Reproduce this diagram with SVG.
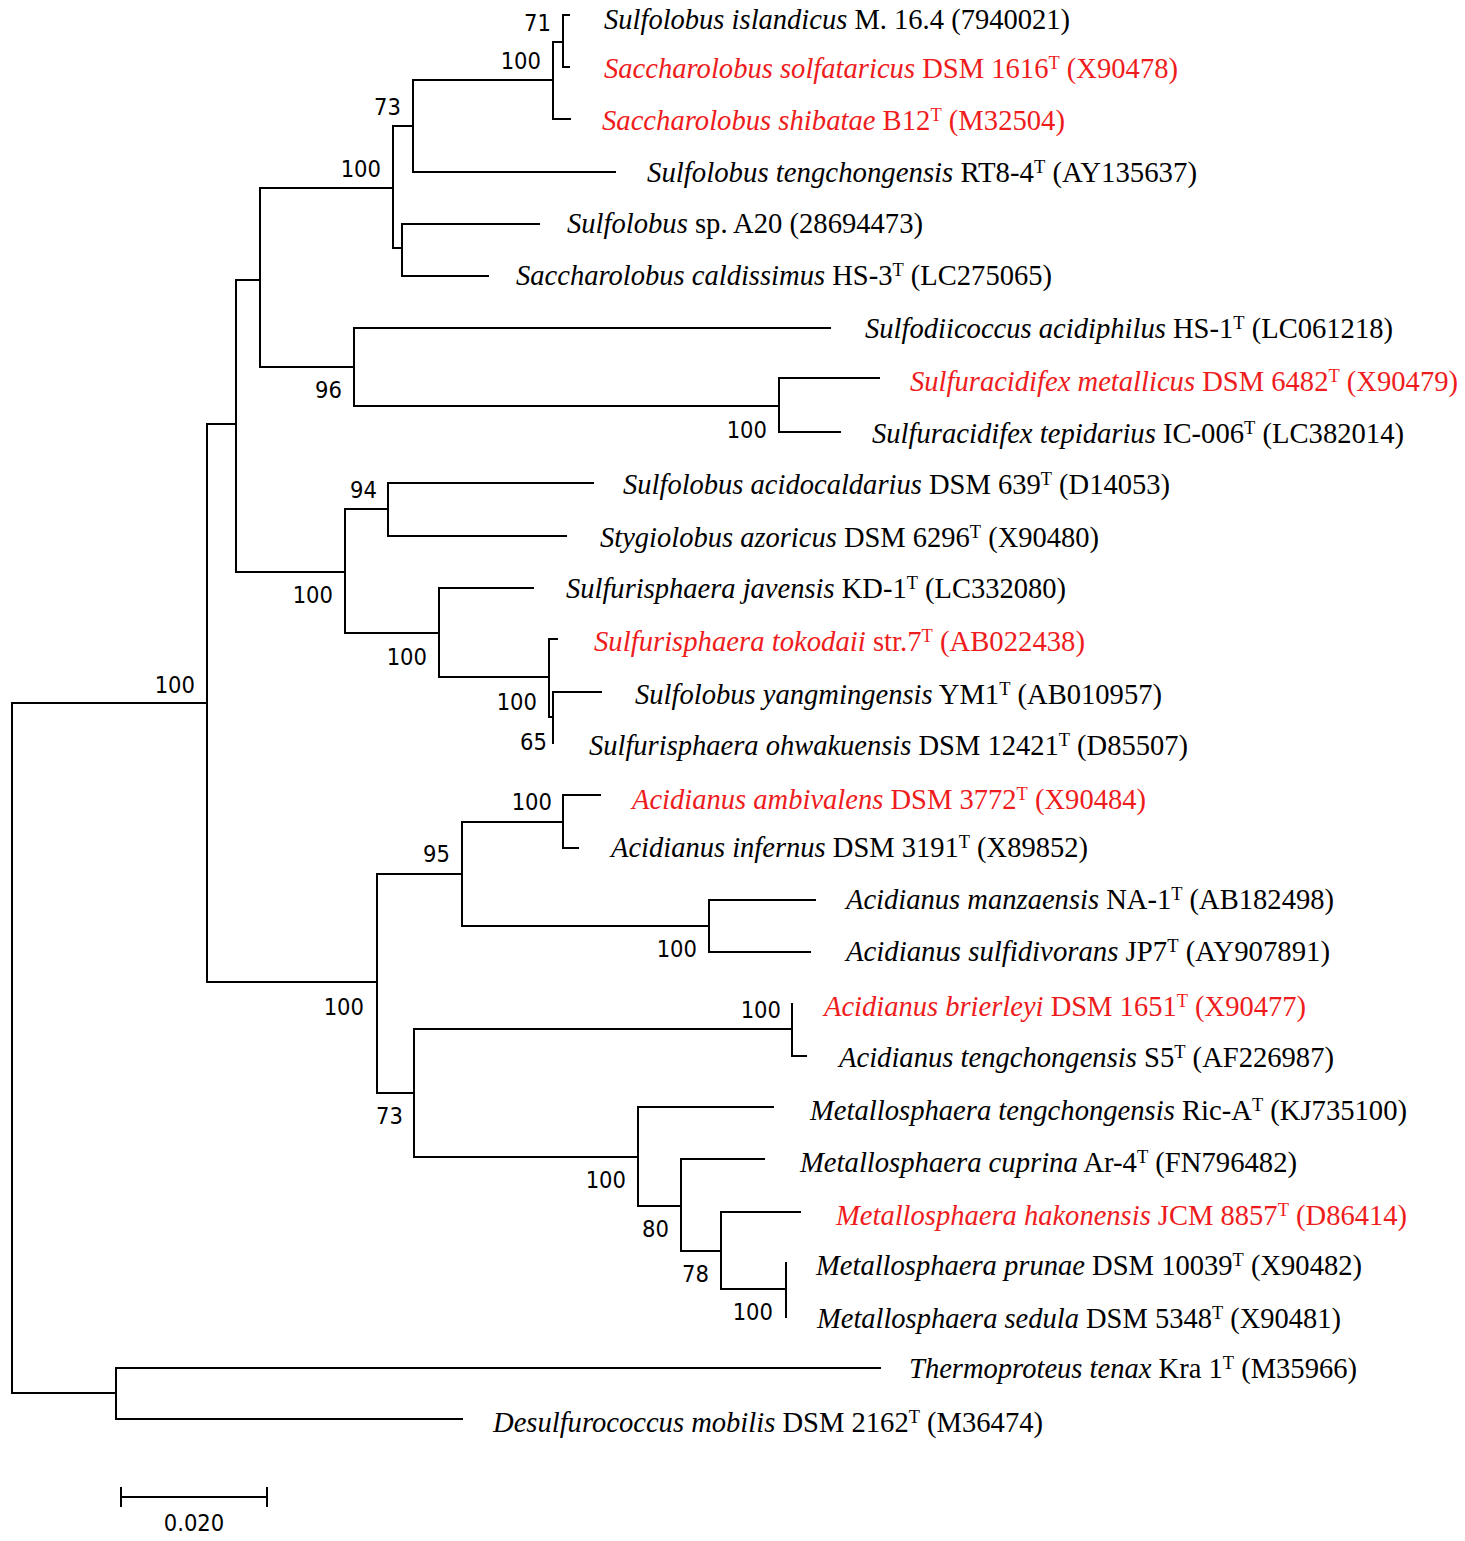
<svg xmlns="http://www.w3.org/2000/svg" width="1465" height="1541" viewBox="0 0 1465 1541">
<style>
.br{fill:none;stroke:#000;stroke-width:2;stroke-linejoin:miter;stroke-linecap:square}
.lb{font-family:"Liberation Serif","Times New Roman",serif;font-size:29.5px;fill:#000}
.red{fill:#ee1c1c}
.i{font-style:italic}
.sup{font-size:19px}
.bs{font-family:"DejaVu Sans Condensed","DejaVu Sans",sans-serif;font-stretch:condensed;font-size:23.5px;fill:#000;text-anchor:end}
.sc{font-family:"DejaVu Sans Condensed","DejaVu Sans",sans-serif;font-stretch:condensed;font-size:23.5px;fill:#000;text-anchor:middle}
</style>
<rect width="1465" height="1541" fill="#fff"/>
<g id="connectors">
<path class="br" d="M207 703 H12 V1393 H116"/>
<path class="br" d="M236 424 H207 V982 H377"/>
<path class="br" d="M260 280 H236 V572 H345"/>
<path class="br" d="M393 188 H260 V367 H354"/>
<path class="br" d="M413 126 H393 V248 H402"/>
<path class="br" d="M553 80 H413 V172 H615"/>
<path class="br" d="M563 42 H553 V119 H570"/>
<path class="br" d="M569 15 H563 V67 H569"/>
<path class="br" d="M539 224 H402 V276 H488"/>
<path class="br" d="M830 328 H354 V406 H779"/>
<path class="br" d="M879 378 H779 V432 H840"/>
<path class="br" d="M388 509 H345 V633 H439"/>
<path class="br" d="M593 483 H388 V536 H566"/>
<path class="br" d="M533 588 H439 V677 H549"/>
<path class="br" d="M557 639 H549 V717 H553"/>
<path class="br" d="M601 692 H553 V743"/>
<path class="br" d="M462 874 H377 V1093 H414"/>
<path class="br" d="M563 822 H462 V926 H709"/>
<path class="br" d="M600 795 H563 V848 H578"/>
<path class="br" d="M815 900 H709 V952 H810"/>
<path class="br" d="M792 1029 H414 V1157 H638"/>
<path class="br" d="M792 1004 V1056 H806"/>
<path class="br" d="M773 1107 H638 V1206 H681"/>
<path class="br" d="M764 1159 H681 V1251 H721"/>
<path class="br" d="M800 1212 H721 V1289 H786"/>
<path class="br" d="M786 1263 V1317"/>
<path class="br" d="M880 1368 H116 V1419 H462"/>
</g>
<g id="bootstrap">
<text id="bs-71" class="bs" x="551" y="31">71</text>
<text id="bs-sacch" class="bs" x="541" y="69">100</text>
<text id="bs-73a" class="bs" x="401" y="115">73</text>
<text id="bs-sulf" class="bs" x="381" y="177">100</text>
<text id="bs-96" class="bs" x="342" y="398">96</text>
<text id="bs-sulfurac" class="bs" x="767" y="438">100</text>
<text id="bs-94" class="bs" x="377" y="498">94</text>
<text id="bs-d" class="bs" x="333" y="603">100</text>
<text id="bs-m" class="bs" x="427" y="665">100</text>
<text id="bs-root" class="bs" x="195" y="693">100</text>
<text id="bs-n" class="bs" x="537" y="710">100</text>
<text id="bs-65" class="bs" x="547" y="750">65</text>
<text id="bs-amb" class="bs" x="552" y="810">100</text>
<text id="bs-95" class="bs" x="450" y="862">95</text>
<text id="bs-manz" class="bs" x="697" y="957">100</text>
<text id="bs-acid" class="bs" x="364" y="1015">100</text>
<text id="bs-brier" class="bs" x="781" y="1018">100</text>
<text id="bs-73b" class="bs" x="403" y="1124">73</text>
<text id="bs-metal" class="bs" x="626" y="1188">100</text>
<text id="bs-80" class="bs" x="669" y="1237">80</text>
<text id="bs-78" class="bs" x="709" y="1282">78</text>
<text id="bs-prun" class="bs" x="773" y="1320">100</text>
</g>
<g id="leaf-01"><text class="lb" x="604" y="29" textLength="466" lengthAdjust="spacingAndGlyphs"><tspan class="i">Sulfolobus islandicus</tspan> M. 16.4 (7940021)</text></g>
<g id="leaf-02"><text class="lb red" x="604" y="78" textLength="574" lengthAdjust="spacingAndGlyphs"><tspan class="i">Saccharolobus solfataricus</tspan> DSM 1616<tspan class="sup" dy="-9">T</tspan><tspan dy="9"> (X90478)</tspan></text></g>
<g id="leaf-03"><text class="lb red" x="602" y="130" textLength="463" lengthAdjust="spacingAndGlyphs"><tspan class="i">Saccharolobus shibatae</tspan> B12<tspan class="sup" dy="-9">T</tspan><tspan dy="9"> (M32504)</tspan></text></g>
<g id="leaf-04"><text class="lb" x="647" y="182" textLength="550" lengthAdjust="spacingAndGlyphs"><tspan class="i">Sulfolobus tengchongensis</tspan> RT8-4<tspan class="sup" dy="-9">T</tspan><tspan dy="9"> (AY135637)</tspan></text></g>
<g id="leaf-05"><text class="lb" x="567" y="233" textLength="356" lengthAdjust="spacingAndGlyphs"><tspan class="i">Sulfolobus</tspan> sp. A20 (28694473)</text></g>
<g id="leaf-06"><text class="lb" x="516" y="285" textLength="536" lengthAdjust="spacingAndGlyphs"><tspan class="i">Saccharolobus caldissimus</tspan> HS-3<tspan class="sup" dy="-9">T</tspan><tspan dy="9"> (LC275065)</tspan></text></g>
<g id="leaf-07"><text class="lb" x="865" y="338" textLength="528" lengthAdjust="spacingAndGlyphs"><tspan class="i">Sulfodiicoccus acidiphilus</tspan> HS-1<tspan class="sup" dy="-9">T</tspan><tspan dy="9"> (LC061218)</tspan></text></g>
<g id="leaf-08"><text class="lb red" x="910" y="391" textLength="548" lengthAdjust="spacingAndGlyphs"><tspan class="i">Sulfuracidifex metallicus</tspan> DSM 6482<tspan class="sup" dy="-9">T</tspan><tspan dy="9"> (X90479)</tspan></text></g>
<g id="leaf-09"><text class="lb" x="872" y="443" textLength="532" lengthAdjust="spacingAndGlyphs"><tspan class="i">Sulfuracidifex tepidarius</tspan> IC-006<tspan class="sup" dy="-9">T</tspan><tspan dy="9"> (LC382014)</tspan></text></g>
<g id="leaf-10"><text class="lb" x="623" y="494" textLength="547" lengthAdjust="spacingAndGlyphs"><tspan class="i">Sulfolobus acidocaldarius</tspan> DSM 639<tspan class="sup" dy="-9">T</tspan><tspan dy="9"> (D14053)</tspan></text></g>
<g id="leaf-11"><text class="lb" x="600" y="547" textLength="499" lengthAdjust="spacingAndGlyphs"><tspan class="i">Stygiolobus azoricus</tspan> DSM 6296<tspan class="sup" dy="-9">T</tspan><tspan dy="9"> (X90480)</tspan></text></g>
<g id="leaf-12"><text class="lb" x="566" y="598" textLength="500" lengthAdjust="spacingAndGlyphs"><tspan class="i">Sulfurisphaera javensis</tspan> KD-1<tspan class="sup" dy="-9">T</tspan><tspan dy="9"> (LC332080)</tspan></text></g>
<g id="leaf-13"><text class="lb red" x="594" y="651" textLength="491" lengthAdjust="spacingAndGlyphs"><tspan class="i">Sulfurisphaera tokodaii</tspan> str.7<tspan class="sup" dy="-9">T</tspan><tspan dy="9"> (AB022438)</tspan></text></g>
<g id="leaf-14"><text class="lb" x="635" y="704" textLength="527" lengthAdjust="spacingAndGlyphs"><tspan class="i">Sulfolobus yangmingensis</tspan> YM1<tspan class="sup" dy="-9">T</tspan><tspan dy="9"> (AB010957)</tspan></text></g>
<g id="leaf-15"><text class="lb" x="589" y="755" textLength="599" lengthAdjust="spacingAndGlyphs"><tspan class="i">Sulfurisphaera ohwakuensis</tspan> DSM 12421<tspan class="sup" dy="-9">T</tspan><tspan dy="9"> (D85507)</tspan></text></g>
<g id="leaf-16"><text class="lb red" x="632" y="809" textLength="514" lengthAdjust="spacingAndGlyphs"><tspan class="i">Acidianus ambivalens</tspan> DSM 3772<tspan class="sup" dy="-9">T</tspan><tspan dy="9"> (X90484)</tspan></text></g>
<g id="leaf-17"><text class="lb" x="611" y="857" textLength="477" lengthAdjust="spacingAndGlyphs"><tspan class="i">Acidianus infernus</tspan> DSM 3191<tspan class="sup" dy="-9">T</tspan><tspan dy="9"> (X89852)</tspan></text></g>
<g id="leaf-18"><text class="lb" x="846" y="909" textLength="488" lengthAdjust="spacingAndGlyphs"><tspan class="i">Acidianus manzaensis</tspan> NA-1<tspan class="sup" dy="-9">T</tspan><tspan dy="9"> (AB182498)</tspan></text></g>
<g id="leaf-19"><text class="lb" x="846" y="961" textLength="484" lengthAdjust="spacingAndGlyphs"><tspan class="i">Acidianus sulfidivorans</tspan> JP7<tspan class="sup" dy="-9">T</tspan><tspan dy="9"> (AY907891)</tspan></text></g>
<g id="leaf-20"><text class="lb red" x="824" y="1016" textLength="482" lengthAdjust="spacingAndGlyphs"><tspan class="i">Acidianus brierleyi</tspan> DSM 1651<tspan class="sup" dy="-9">T</tspan><tspan dy="9"> (X90477)</tspan></text></g>
<g id="leaf-21"><text class="lb" x="839" y="1067" textLength="495" lengthAdjust="spacingAndGlyphs"><tspan class="i">Acidianus tengchongensis</tspan> S5<tspan class="sup" dy="-9">T</tspan><tspan dy="9"> (AF226987)</tspan></text></g>
<g id="leaf-22"><text class="lb" x="810" y="1120" textLength="597" lengthAdjust="spacingAndGlyphs"><tspan class="i">Metallosphaera tengchongensis</tspan> Ric-A<tspan class="sup" dy="-9">T</tspan><tspan dy="9"> (KJ735100)</tspan></text></g>
<g id="leaf-23"><text class="lb" x="800" y="1172" textLength="497" lengthAdjust="spacingAndGlyphs"><tspan class="i">Metallosphaera cuprina</tspan> Ar-4<tspan class="sup" dy="-9">T</tspan><tspan dy="9"> (FN796482)</tspan></text></g>
<g id="leaf-24"><text class="lb red" x="836" y="1225" textLength="571" lengthAdjust="spacingAndGlyphs"><tspan class="i">Metallosphaera hakonensis</tspan> JCM 8857<tspan class="sup" dy="-9">T</tspan><tspan dy="9"> (D86414)</tspan></text></g>
<g id="leaf-25"><text class="lb" x="816" y="1275" textLength="546" lengthAdjust="spacingAndGlyphs"><tspan class="i">Metallosphaera prunae</tspan> DSM 10039<tspan class="sup" dy="-9">T</tspan><tspan dy="9"> (X90482)</tspan></text></g>
<g id="leaf-26"><text class="lb" x="817" y="1328" textLength="524" lengthAdjust="spacingAndGlyphs"><tspan class="i">Metallosphaera sedula</tspan> DSM 5348<tspan class="sup" dy="-9">T</tspan><tspan dy="9"> (X90481)</tspan></text></g>
<g id="leaf-27"><text class="lb" x="909" y="1378" textLength="448" lengthAdjust="spacingAndGlyphs"><tspan class="i">Thermoproteus tenax</tspan> Kra 1<tspan class="sup" dy="-9">T</tspan><tspan dy="9"> (M35966)</tspan></text></g>
<g id="leaf-28"><text class="lb" x="493" y="1432" textLength="550" lengthAdjust="spacingAndGlyphs"><tspan class="i">Desulfurococcus mobilis</tspan> DSM 2162<tspan class="sup" dy="-9">T</tspan><tspan dy="9"> (M36474)</tspan></text></g>
<g id="scale-bar">
<path class="br" d="M121 1497 H267 M121 1488 V1506 M267 1488 V1506"/>
<text class="sc" x="194" y="1531">0.020</text>
</g>
</svg>
